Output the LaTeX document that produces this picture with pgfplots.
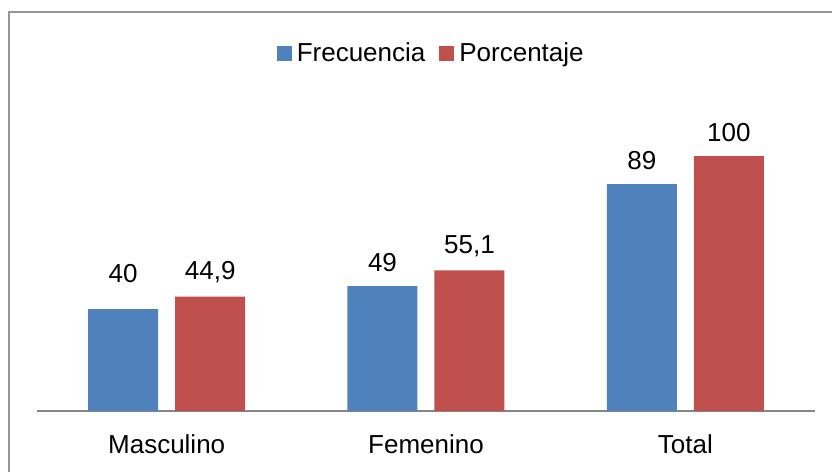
\documentclass[border=0pt]{standalone}
\usepackage{fontspec}
\setmainfont{Liberation Sans}
\usepackage{pgfplots}
\pgfplotsset{compat=1.18}
\usepackage{pgfplotstable}
\definecolor{cblue}{HTML}{4F81BD}
\definecolor{cred}{HTML}{C0504D}
\definecolor{axgray}{HTML}{868686}
\definecolor{brd}{HTML}{969696}
\pgfplotstableread{
x y lab
0 40 {\raisebox{6pt}{40}}
1 49 49
2 89 89
}\frec
\pgfplotstableread{
x y lab
0 44.9 {44,9}
1 55.1 {55,1}
2 100 100
}\porc
\begin{document}
\begin{tikzpicture}[x=1pt,y=1pt]
\useasboundingbox (0,0) rectangle (416,236);
\draw[brd, line width=1.2pt] (4.5,0) -- (4.5,230) -- (416,230);
\begin{axis}[
  at={(18.5pt,30.5pt)}, anchor=south west,
  scale only axis,
  width=389pt, height=191.25pt,
  xmin=-0.5, xmax=2.5, ymin=0, ymax=150,
  axis x line*=bottom,
  axis y line=none,
  x axis line style={axgray, line width=0.8pt, -},
  xtick={0,1,2},
  xticklabels={Masculino,Femenino,Total},
  major tick length=0pt,
  xticklabel style={font=\fontsize{13}{15}\selectfont, yshift=-8.5pt},
  ybar, bar width=35pt,
  nodes near coords,
  point meta=explicit symbolic,
  every node near coord/.append style={font=\fontsize{13}{15}\selectfont, text=black, yshift=3.5pt},
  legend style={at={(0.508,0.935)}, anchor=center, draw=none, fill=none,
    legend columns=2, font=\fontsize{13}{15}\selectfont,
    /tikz/every even column/.append style={column sep=5pt}},
  legend image code/.code={\fill[#1] (0pt,-3.75pt) rectangle (7.5pt,3.75pt);},
  clip=false,
]
\addplot[fill=cblue, draw=none, bar shift=-21.75pt] table[x=x,y=y,meta=lab]{\frec};
\addplot[fill=cred, draw=none, bar shift=21.75pt] table[x=x,y=y,meta=lab]{\porc};
\legend{\hspace{0.5pt}Frecuencia,\hspace{0.5pt}Porcentaje}
\end{axis}
\end{tikzpicture}
\end{document}
